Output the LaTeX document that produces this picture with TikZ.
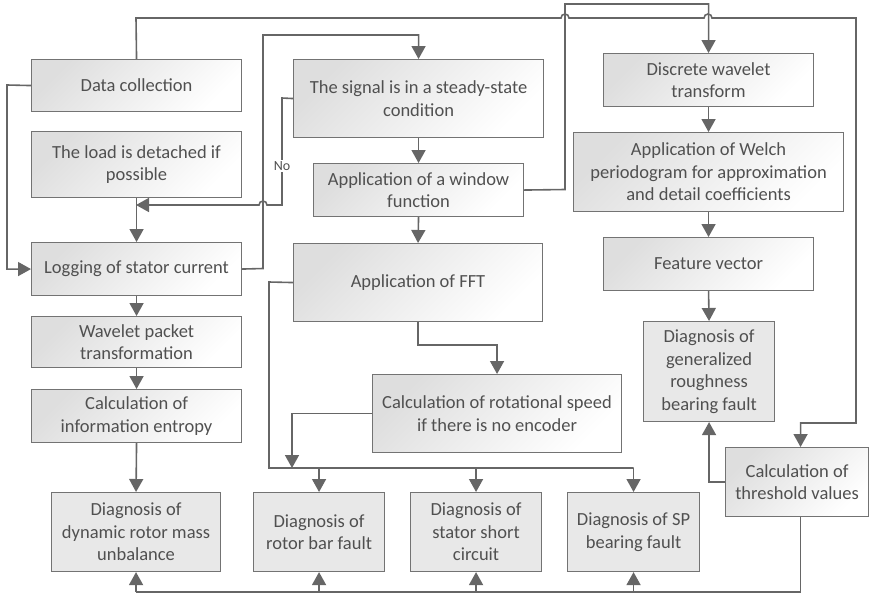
\documentclass[tikz,border=0pt]{standalone}
\usepackage{fontspec}
\setmainfont{Carlito}
\usetikzlibrary{arrows.meta,calc}
\definecolor{linec}{HTML}{666666}
\definecolor{borderc}{HTML}{737373}
\definecolor{textc}{HTML}{505050}
\definecolor{diagc}{HTML}{E8E8E8}
\definecolor{gradc}{HTML}{DEDEDE}
\begin{document}
\begin{tikzpicture}[x=1pt,y=-1pt,
  boxbase/.style={draw=borderc, line width=1.1pt, anchor=north west, inner sep=0pt,
    align=center, text=textc, font=\fontsize{18.5}{22.5}\selectfont},
  gbox/.style={boxbase, top color=gradc, bottom color=white, shading angle=45},
  dbox/.style={boxbase, fill=diagc},
  wire/.style={draw=linec, line width=1.6pt},
  conn/.style={wire, -{Triangle[width=14pt,length=13pt]}},
]
\useasboundingbox (0,0) rectangle (872,595);

% left column
\node[gbox, minimum width=210pt, minimum height=52pt] (dc) at (31,59) {Data collection};
\node[gbox, minimum width=210pt, minimum height=66pt] (load) at (31,131) {The load is detached if\\possible};
\node[gbox, minimum width=210pt, minimum height=53pt] (log) at (31,242) {Logging of stator current};
\node[gbox, minimum width=210pt, minimum height=51pt] (wpt) at (31,316) {Wavelet packet\\transformation};
\node[gbox, minimum width=210pt, minimum height=53pt] (ent) at (31,389) {Calculation of\\information entropy};
\node[dbox, minimum width=169pt, minimum height=79pt] (d1) at (51,492) {Diagnosis of\\dynamic rotor mass\\unbalance};

% middle column
\node[gbox, minimum width=250pt, minimum height=78pt] (steady) at (293,59) {The signal is in a steady-state\\condition};
\node[gbox, minimum width=210pt, minimum height=53pt] (win) at (313,163) {Application of a window\\function};
\node[gbox, minimum width=249pt, minimum height=78pt] (fft) at (293,243) {Application of FFT};
\node[gbox, minimum width=249pt, minimum height=78pt] (rot) at (372,374) {Calculation of rotational speed\\if there is no encoder};
\node[dbox, minimum width=131pt, minimum height=79pt] (d2) at (253,492) {Diagnosis of\\rotor bar fault};
\node[dbox, minimum width=131pt, minimum height=79pt] (d3) at (410,492) {Diagnosis of\\stator short\\circuit};
\node[dbox, minimum width=132pt, minimum height=79pt] (d4) at (567,492) {Diagnosis of SP\\bearing fault};

% right column
\node[gbox, minimum width=210pt, minimum height=53pt] (dwt) at (603,53) {Discrete wavelet\\transform};
\node[gbox, minimum width=270pt, minimum height=79pt] (welch) at (573,132) {Application of Welch\\periodogram for approximation\\and detail coefficients};
\node[gbox, minimum width=210pt, minimum height=53pt] (fv) at (603,237) {Feature vector};
\node[dbox, minimum width=131pt, minimum height=100pt] (rough) at (643,321) {Diagnosis of\\generalized\\roughness\\bearing fault};
\node[gbox, minimum width=143pt, minimum height=69pt] (thr) at (725,447) {Calculation of\\threshold values};

\coordinate (bus) at (0,468);
\coordinate (busl) at (269,468);
\coordinate (busr) at (292,468);
\coordinate (bot) at (0,592);
\coordinate (thrx) at ([xshift=3.5pt]thr.south);
\coordinate (thrn) at ([xshift=3.5pt]thr.north);

% connectors
\draw[conn] (dc.north) -- (136,18) -- (561,18) arc[start angle=180,end angle=0,radius=4pt]
  -- (704,18) arc[start angle=180,end angle=0,radius=4pt] -- (856,18) -- (856,423) -| (thrn);
\draw[conn] (dc.west) -- (7,85) |- (log.west);
\draw[conn] (load.south) -- (log.north);
\draw[conn] (log.east) -- (263,268.5) -- (263,35) -| (steady.north);
\draw[conn] (steady.west) -- (282,98) -- (282,205) -- (267,205)
  arc[start angle=0,end angle=180,radius=4pt] -- (136,205);
\node[fill=white, text=textc, inner sep=1pt, font=\fontsize{14}{16}\selectfont] (no) at (282,166) {No};
\draw[conn] (steady.south) -- (win.north);
\draw[conn] (win.south) -- (fft.north);
\draw[conn] (win.east) -- (565,189.5) -- (565,4) -| (dwt.north);
\draw[conn] (dwt.south) -- (welch.north);
\draw[conn] (welch.south) -- (fv.north);
\draw[conn] (fv.south) -- (rough.north);
\draw[conn] (thr.west) -| (rough.south);
\draw[conn] (fft.south) -- ++(0,23) -| (rot.north);
\draw[wire] (fft.west) -- (269,282) -- (busl) -- (d4.north |- bus);
\draw[conn] (rot.west) -| (busr);
\draw[conn] (d2.north |- bus) -- (d2.north);
\draw[conn] (d3.north |- bus) -- (d3.north);
\draw[conn] (d4.north |- bus) -- (d4.north);
\draw[conn] (log.south) -- (wpt.north);
\draw[conn] (wpt.south) -- (ent.north);
\draw[conn] (ent.south) -- (d1.north);
\draw[wire] (thrx) -- (thrx |- bot) -- (d1.south |- bot);
\draw[conn] (d1.south |- bot) -- (d1.south);
\draw[conn] (d2.south |- bot) -- (d2.south);
\draw[conn] (d3.south |- bot) -- (d3.south);
\draw[conn] (d4.south |- bot) -- (d4.south);
\end{tikzpicture}
\end{document}
